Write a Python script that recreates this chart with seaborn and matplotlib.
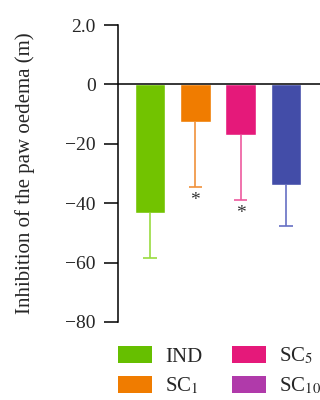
import matplotlib
matplotlib.use('Agg')
import matplotlib.pyplot as plt
import seaborn as sns
from matplotlib.patches import Patch

sns.set_style('ticks')
plt.rcParams['font.family'] = ['Liberation Serif', 'DejaVu Serif']
plt.rcParams['mathtext.fontset'] = 'stix'

groups = ['IND', 'SC1', 'SC5', 'SC10']
means = [-43.2, -12.6, -17.0, -34.0]
errors = [15.3, 22.0, 22.0, 13.7]
signif = ['', '*', '*', '']
bar_colors = ['#72C300', '#F07C00', '#E5197A', '#434DA8']
err_colors = ['#9ADB40', '#F0913B', '#EE5A9E', '#6670C4']
legend_labels = ['IND', r'SC$_{1}$', r'SC$_{5}$', r'SC$_{10}$']
legend_colors = ['#66BF00', '#F07C00', '#E5197A', '#B03AAA']
yticks = [20, 0, -20, -40, -60, -80]
ytick_labels = ['2.0', '0', '\u221220', '\u221240', '\u221260', '\u221280']

fig = plt.figure(figsize=(3.2, 4), dpi=100)
ax = fig.add_axes([0.369, 0.195, 0.631, 0.7425])

sns.barplot(x=groups, y=means, hue=groups, palette=bar_colors, width=0.68,
            legend=False, saturation=1, ax=ax)

pos = list(range(len(groups)))
lows = [m - e for m, e in zip(means, errors)]
ax.vlines(pos, means, lows, colors=err_colors, lw=1.2)
ax.hlines(lows, [p - 0.15 for p in pos], [p + 0.15 for p in pos], colors=err_colors, lw=1.2)
for p, lo, s in zip(pos, lows, signif):
    if s:
        ax.text(p, lo - 1.5, s, ha='center', va='top', fontsize=14, color='#333333')

ax.axhline(0, color='black', lw=1.1)
ax.set_xlim(-0.706, 3.75)
ax.set_ylim(-80, 20)
ax.set_yticks(yticks)
ax.set_yticklabels(ytick_labels, fontsize=14)
ax.set_xticks([])
ax.set_ylabel('Inhibition of the paw oedema (m)', fontsize=15, labelpad=22)
ax.tick_params(axis='y', length=10, width=1.1, pad=6, color='black')
sns.despine(ax=ax, bottom=True)
ax.spines['left'].set_linewidth(1.1)
ax.spines['left'].set_color('black')

handles = [Patch(facecolor=c, edgecolor='none') for c in legend_colors]
fig.legend(handles, legend_labels, loc='upper left', bbox_to_anchor=(0.369, 0.135),
           ncol=2, frameon=False, fontsize=15, handlelength=1.63, handleheight=0.82,
           handletextpad=0.62, columnspacing=1.45, labelspacing=0.45,
           borderpad=0, borderaxespad=0)

fig.savefig('out.png', dpi=100)
